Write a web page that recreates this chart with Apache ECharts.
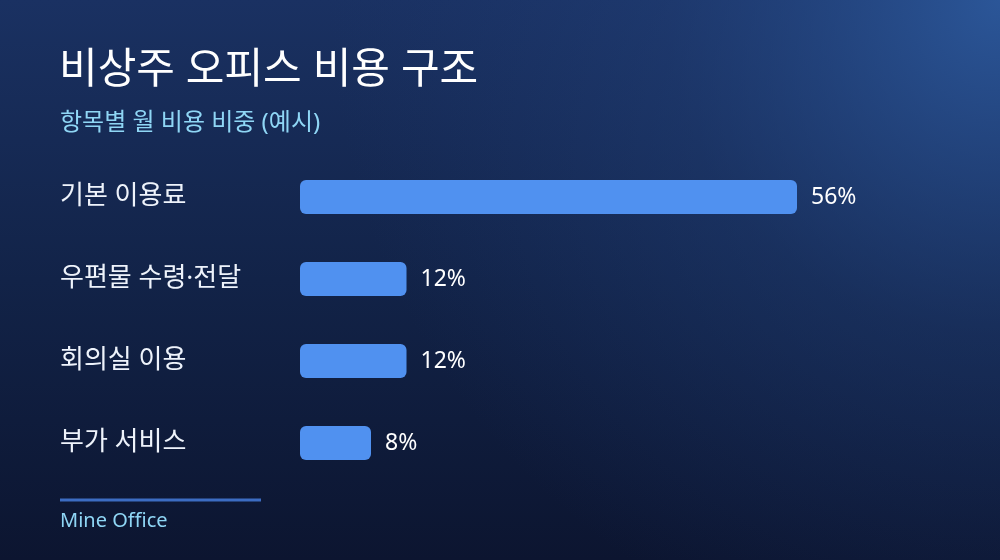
<!DOCTYPE html>
<html><head><meta charset="utf-8">
<script src="https://cdn.jsdelivr.net/npm/echarts@6/dist/echarts.min.js"></script>
<style>html,body{margin:0;padding:0;background:#0e1834}#c{width:1000px;height:560px}</style>
</head><body><div id="c"></div>
<script>
var categories = ['기본 이용료', '우편물 수령·전달', '회의실 이용', '부가 서비스'];
var shares = [56, 12, 12, 8];
var titleText = '비상주 오피스 비용 구조';
var subtitleText = '항목별 월 비용 비중 (예시)';
var footerText = 'Mine Office';

var FONT = '"Noto Sans", "Noto Sans CJK KR", sans-serif';
var chart = echarts.init(document.getElementById('c'), null, {renderer: 'canvas'});
chart.setOption({
  backgroundColor: {
    type: 'linear', x: 0, y: 0, x2: 0, y2: 1,
    colorStops: [
      {offset: 0, color: '#1a3162'},
      {offset: 0.5, color: '#122348'},
      {offset: 1, color: '#0c1530'}
    ]
  },
  textStyle: {fontFamily: FONT},
  title: [
    {text: titleText, left: 59, top: 50, padding: 0, textStyle: {color: '#ffffff', fontSize: 42, fontWeight: 'normal', fontFamily: FONT}},
    {text: subtitleText, left: 60, top: 111, padding: 0, textStyle: {color: '#8fd6f5', fontSize: 24, fontWeight: 'normal', fontFamily: FONT}}
  ],
  grid: {left: 300, right: 203, top: 156, bottom: 76},
  xAxis: {type: 'value', min: 0, max: 56, show: false},
  yAxis: {
    type: 'category', data: categories, inverse: true,
    axisLine: {show: false}, axisTick: {show: false}, splitLine: {show: false},
    axisLabel: {align: 'left', margin: 240, color: '#eef3fb', fontSize: 26, fontFamily: FONT, padding: [5, 0, 0, 0]}
  },
  series: [{
    type: 'bar', data: shares, barWidth: 34,
    itemStyle: {color: '#5091f0', borderRadius: 6},
    label: {show: true, position: 'right', distance: 14, formatter: '{c}%', color: '#ffffff', fontSize: 23, fontFamily: FONT},
    silent: true
  }],
  graphic: [
    {type: 'rect', silent: true, z: -10, shape: {x: 0, y: 0, width: 1000, height: 560},
     style: {fill: {type: 'radial', x: 1, y: 0, r: 1.2, colorStops: [
       {offset: 0, color: 'rgba(44,88,155,0.95)'},
       {offset: 0.5, color: 'rgba(36,70,130,0.35)'},
       {offset: 1, color: 'rgba(30,60,120,0)'}
     ]}}},
    {type: 'line', shape: {x1: 60, y1: 500, x2: 261, y2: 500}, style: {stroke: '#3c6cc2', lineWidth: 3}},
    {type: 'text', left: 60, top: 511, style: {text: footerText, fill: '#8fd6f5', fontSize: 20, fontFamily: FONT}}
  ],
  animation: false
});
</script></body></html>
